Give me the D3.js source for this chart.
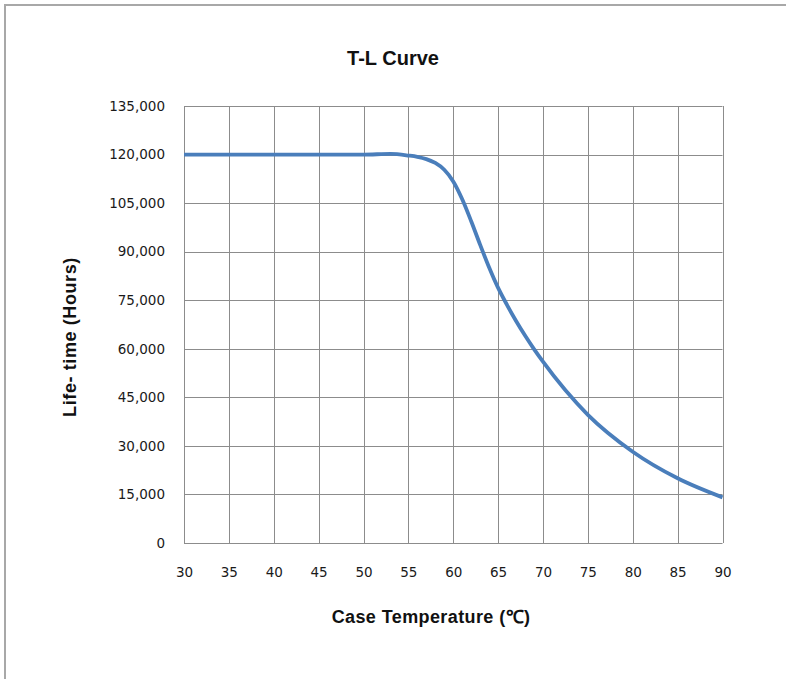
<!DOCTYPE html>
<html>
<head>
<meta charset="utf-8">
<script src="https://cdn.jsdelivr.net/npm/d3@7"></script>
<style>
  html, body { margin: 0; padding: 0; background: #fff; }
  svg { display: block; }
</style>
</head>
<body>
<div id="chart"></div>
<script>
// case temperature (°C) vs life-time (hours)
const temps = [30, 35, 40, 45, 50, 53, 55, 56, 57, 58, 59, 60, 61, 62, 63, 64, 65,
               66, 67, 68, 69, 70, 75, 80, 85, 90];
const hours = [120000, 120000, 120000, 120000, 120000, 120200, 119700, 119300, 118600, 117400, 115300, 111700,
               106200, 99400, 92100, 85100, 78800, 73500, 68600, 64100, 59900, 56000, 39600, 28200, 20000, 14100];
const xTicks = [30, 35, 40, 45, 50, 55, 60, 65, 70, 75, 80, 85, 90];
const yTicks = [0, 15000, 30000, 45000, 60000, 75000, 90000, 105000, 120000, 135000];

const W = 786, H = 679;
// plot area
const plotL = 184, plotR = 722.5, plotT = 106, plotB = 543;

const svg = d3.select("#chart").append("svg")
    .attr("width", W)
    .attr("height", H);

// outer chart frame (runs off the right/bottom edge like the screenshot)
svg.append("rect")
    .attr("x", 5).attr("y", 5)
    .attr("width", W + 20).attr("height", H + 20)
    .attr("fill", "#fff")
    .attr("stroke", "#a8a8a8")
    .attr("stroke-width", 2);

let x = d3.scaleLinear().domain([30, 90]).range([plotL, plotR]);
let y = d3.scaleLinear().domain([0, 135000]).range([plotB, plotT]);

// grid lines
let grid = svg.append("g").attr("class", "grid");
grid.selectAll("line.v")
    .data(xTicks)
    .enter().append("line")
    .attr("class", "v")
    .attr("x1", d => Math.round(x(d)) + 0.5).attr("x2", d => Math.round(x(d)) + 0.5)
    .attr("y1", plotT).attr("y2", plotB)
    .attr("stroke", "#8c8c8c");
grid.selectAll("line.h")
    .data(yTicks)
    .enter().append("line")
    .attr("class", "h")
    .attr("y1", d => Math.round(y(d)) + 0.5).attr("y2", d => Math.round(y(d)) + 0.5)
    .attr("x1", plotL).attr("x2", plotR)
    .attr("stroke", "#8c8c8c");

// tick labels through the axes, with the axis lines hidden
let fmt = d3.format(",");
let yAxis = svg.append("g")
    .attr("transform", `translate(${plotL - 16},0)`)
    .call(d3.axisLeft(y).tickValues(yTicks).tickSize(0).tickFormat(fmt));
let xAxis = svg.append("g")
    .attr("transform", `translate(0,${plotB + 21})`)
    .call(d3.axisBottom(x).tickValues(xTicks).tickSize(0));
[yAxis, xAxis].forEach(a => {
    a.select(".domain").remove();
    a.selectAll("text")
        .attr("font-family", "DejaVu Sans, sans-serif")
        .attr("font-size", 13.5)
        .attr("fill", "#1a1a1a");
});

// the curve
let line = d3.line()
    .x((d, i) => x(temps[i]))
    .y(d => y(d))
    .curve(d3.curveMonotoneX);
svg.append("path")
    .datum(hours)
    .attr("d", line)
    .attr("fill", "none")
    .attr("stroke", "#4a7ebb")
    .attr("stroke-width", 3.8)
    .attr("stroke-linejoin", "round");

// titles
svg.append("text")
    .attr("x", 393).attr("y", 65)
    .attr("text-anchor", "middle")
    .attr("font-family", "Liberation Sans, Arial, sans-serif")
    .attr("font-weight", "bold")
    .attr("font-size", 20)
    .attr("fill", "#111")
    .text("T-L Curve");

svg.append("text")
    .attr("x", 431).attr("y", 623)
    .attr("text-anchor", "middle")
    .attr("font-family", "Liberation Sans, Arial, sans-serif")
    .attr("font-weight", "bold")
    .attr("font-size", 18)
    .attr("letter-spacing", 0.4)
    .attr("fill", "#111")
    .text("Case Temperature (℃)");

svg.append("text")
    .attr("transform", "translate(76,337) rotate(-90)")
    .attr("text-anchor", "middle")
    .attr("font-family", "Liberation Sans, Arial, sans-serif")
    .attr("font-weight", "bold")
    .attr("font-size", 18)
    .attr("letter-spacing", 0.6)
    .attr("fill", "#111")
    .text("Life- time (Hours)");
</script>
</body>
</html>
